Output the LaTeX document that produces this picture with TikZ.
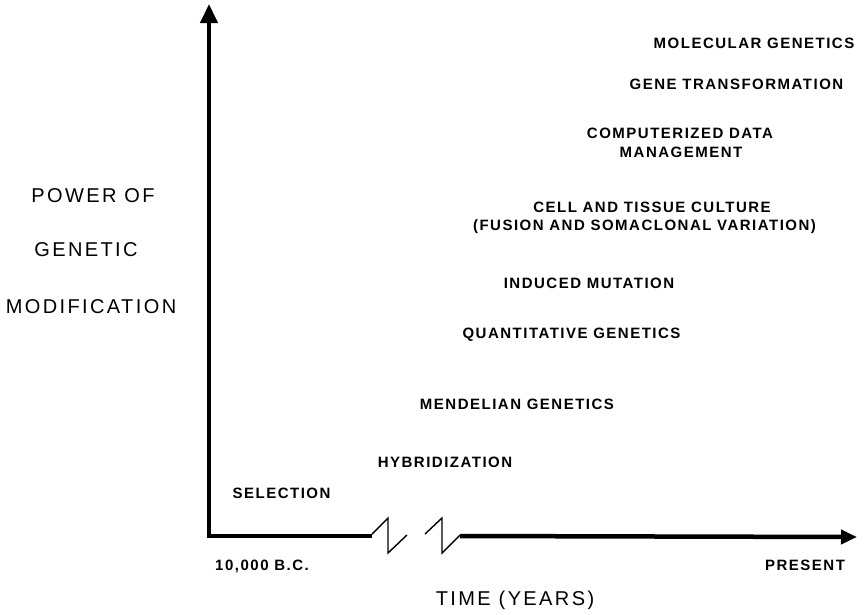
\documentclass[tikz,border=0pt]{standalone}
\usepackage{fontspec}
\setmainfont{Liberation Sans}
\newfontfamily\labfont[LetterSpace=10]{Liberation Sans}
\newfontfamily\axfont[LetterSpace=12]{Liberation Sans}
\usetikzlibrary{arrows.meta}
\begin{document}
\begin{tikzpicture}[x=1pt,y=-1pt,
  lab/.style={font=\labfont\bfseries\fontsize{15}{18}\selectfont, anchor=base, inner sep=0pt},
  ax/.style={font=\axfont\fontsize{20}{24}\selectfont, anchor=base, inner sep=0pt},
  axisline/.style={line width=4.5pt, line join=miter},
  zig/.style={line width=1.4pt, line join=miter}]
\useasboundingbox (0,0) rectangle (865,614);
% axes
\coordinate (O) at (209,536);
\coordinate (Ytip) at (209,4);
\coordinate (b1) at (372,536);
\coordinate (z1) at (372,534);
\coordinate (z2) at (388,518);
\coordinate (z3) at (388,553);
\coordinate (z4) at (407,535);
\coordinate (z5) at (425,534);
\coordinate (z6) at (442,518);
\coordinate (z7) at (442,553);
\coordinate (z8) at (460,535);
\coordinate (b2) at (460,536);
\coordinate (Xtip) at (857,537);
\draw[axisline,{Triangle[width=17pt,length=19pt]}-] (Ytip) -- (O) -- (b1);
\draw[zig] (z1) -- (z2) -- (z3) -- (z4);
\draw[zig] (z5) -- (z6) -- (z7) -- (z8);
\draw[axisline,-{Triangle[width=14pt,length=16pt]}] (b2) -- (Xtip);
% axis labels
\node[ax] (pw1) at (93,202.2) {POWER OF};
\node[ax] (pw2) at (86,256.2) {GENETIC};
\node[ax] (pw3) at (91,313.2) {MODIFICATION};
\node[ax] (time) at (515,605.2) {TIME (YEARS)};
\node[lab] (start) at (262,570.4) {10,000 B.C.};
\node[lab] (present) at (805,570.4) {PRESENT};
% milestones
\node[lab] (sel) at (281.5,498.4) {SELECTION};
\node[lab] (hyb) at (445,467.4) {HYBRIDIZATION};
\node[lab] (men) at (517,409.4) {MENDELIAN GENETICS};
\node[lab] (qua) at (571.5,338.4) {QUANTITATIVE GENETICS};
\node[lab] (ind) at (589,288.4) {INDUCED MUTATION};
\node[lab] (cell1) at (652,212.4) {CELL AND TISSUE CULTURE};
\node[lab] (cell2) at (644.5,230.4) {(FUSION AND SOMACLONAL VARIATION)};
\node[lab] (comp1) at (680,138.4) {COMPUTERIZED DATA};
\node[lab] (comp2) at (681,157.4) {MANAGEMENT};
\node[lab] (gene) at (736.5,89.4) {GENE TRANSFORMATION};
\node[lab] (mol) at (754,48.4) {MOLECULAR GENETICS};
\end{tikzpicture}
\end{document}
